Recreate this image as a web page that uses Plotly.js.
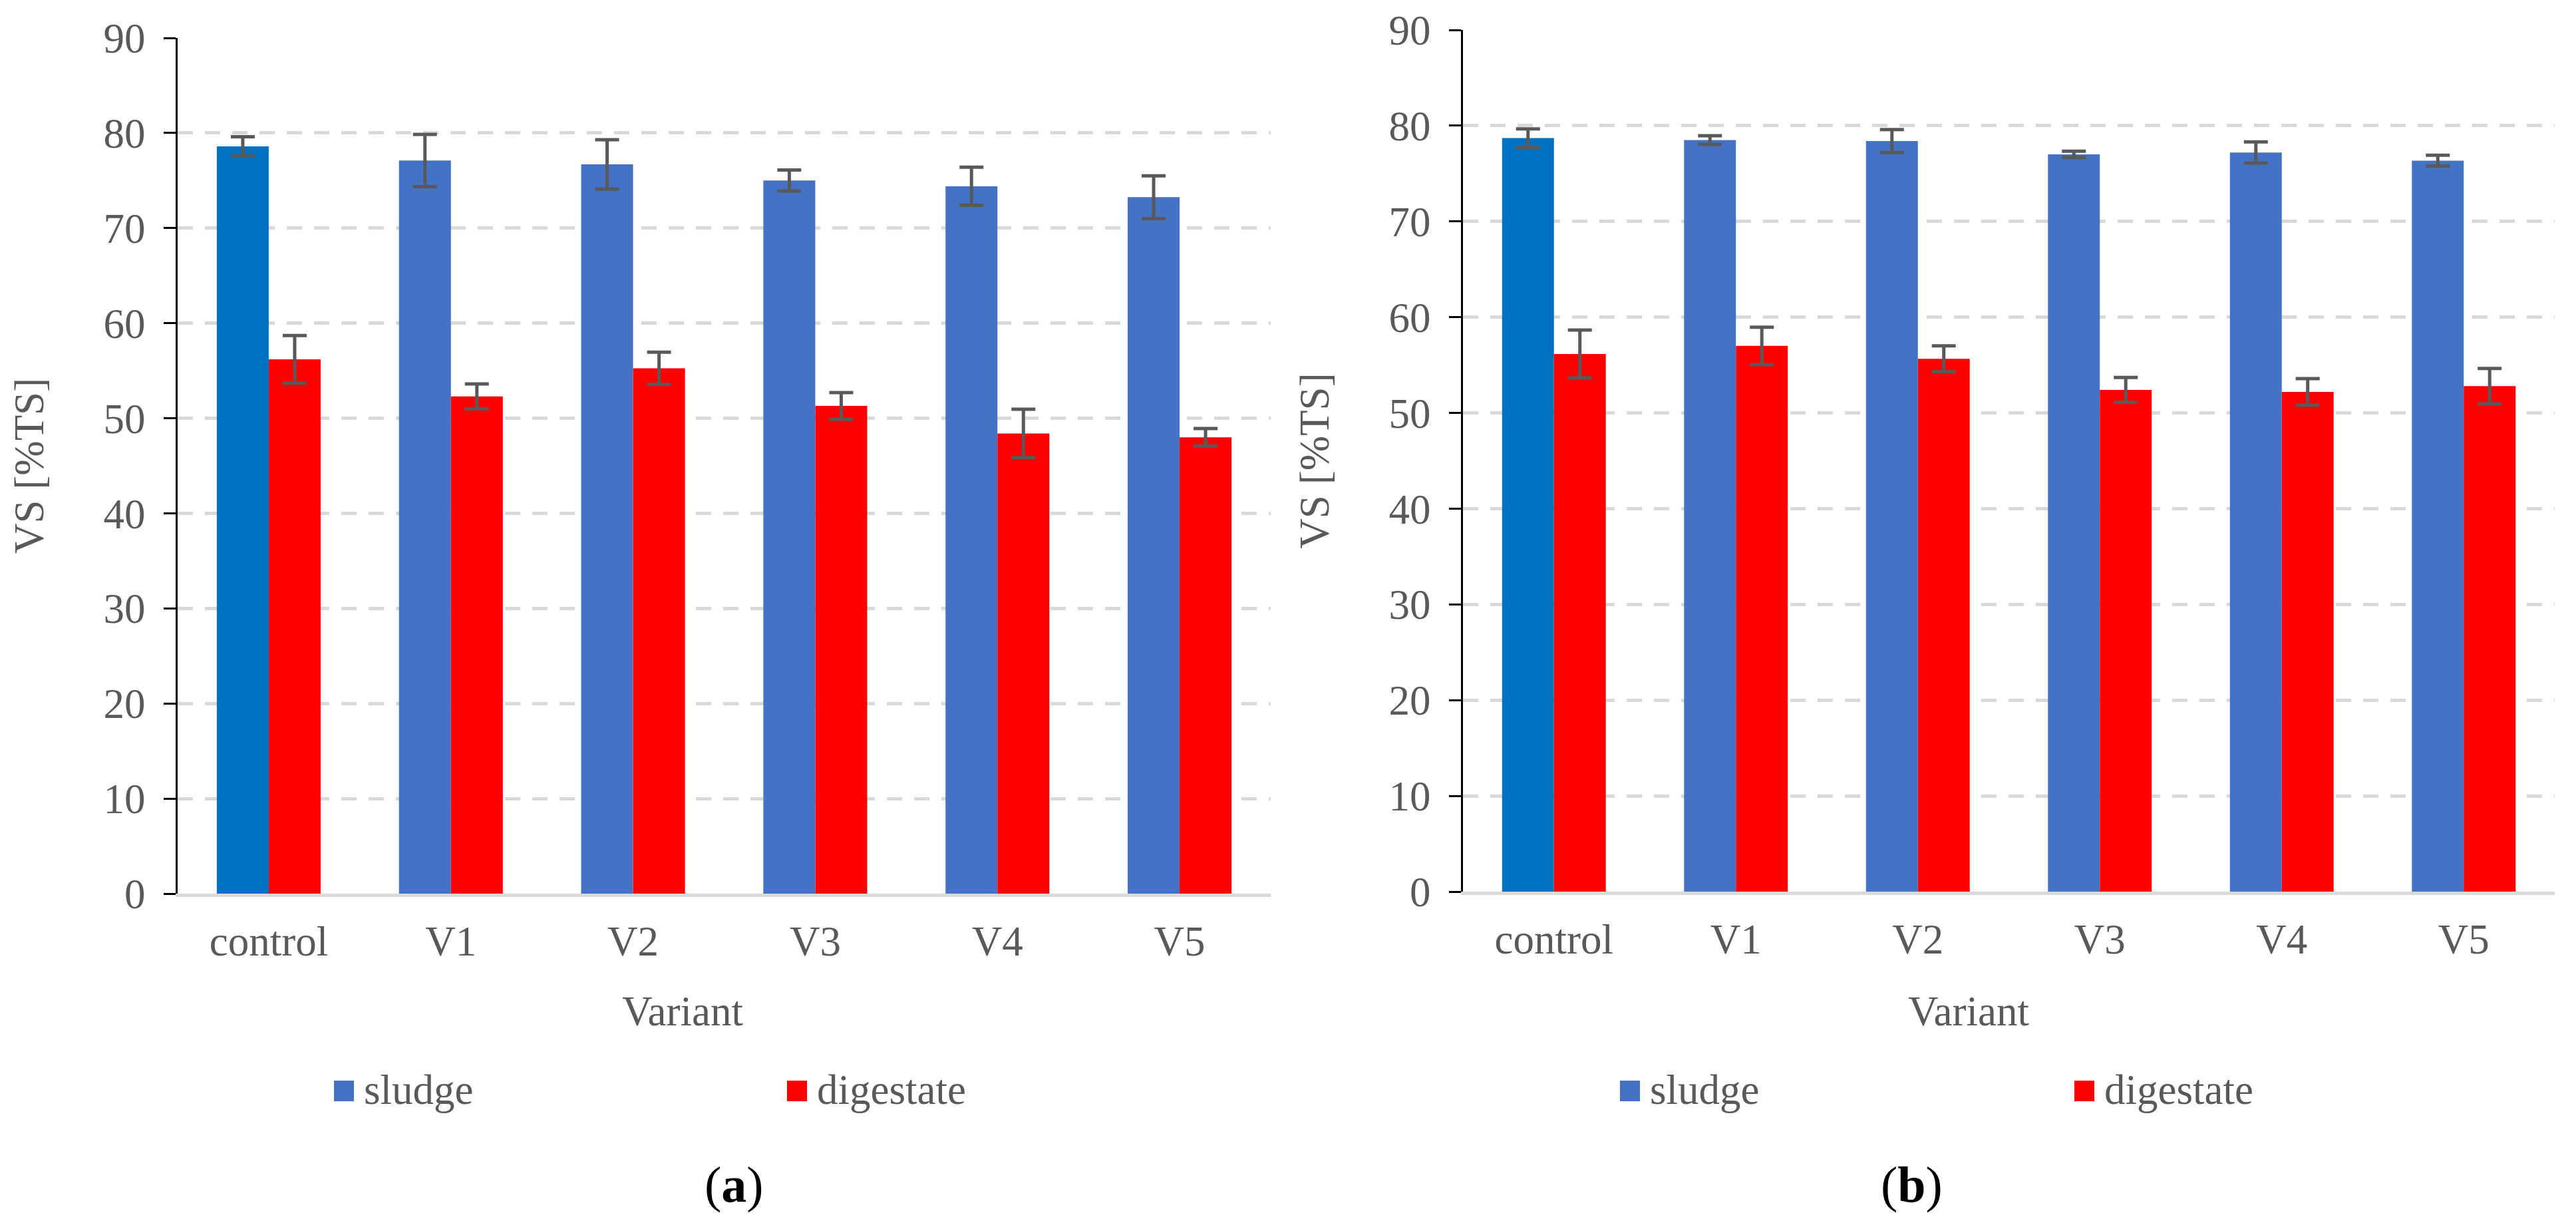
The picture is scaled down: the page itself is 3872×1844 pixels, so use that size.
<!DOCTYPE html>
<html>
<head>
<meta charset="utf-8">
<script src="https://cdn.plot.ly/plotly-3.0.1.min.js"></script>
<style>html,body{margin:0;padding:0;background:#fff;}#chart{width:3872px;height:1844px;}</style>
</head>
<body>
<div id="chart"></div>
<script>
// ---- data ----
const variants = ['control', 'V1', 'V2', 'V3', 'V4', 'V5'];
const sludgeA = [78.6, 77.1, 76.7, 75.0, 74.4, 73.25];
const sludgeErrA = [1.0, 2.75, 2.6, 1.1, 2.0, 2.25];
const digestateA = [56.2, 52.3, 55.25, 51.3, 48.4, 48.0];
const digestateErrA = [2.5, 1.3, 1.7, 1.4, 2.55, 0.92];
const sludgeB = [78.7, 78.5, 78.4, 77.0, 77.2, 76.35];
const sludgeErrB = [0.97, 0.45, 1.2, 0.33, 1.1, 0.56];
const digestateB = [56.15, 57.0, 55.65, 52.4, 52.2, 52.8];
const digestateErrB = [2.5, 1.95, 1.35, 1.3, 1.38, 1.85];
const seriesNames = ['sludge', 'digestate'];
const yTitle = 'VS [%TS]';
const xTitle = 'Variant';

// ---- style ----
const FONT = 'Liberation Serif';
const GREY = '#595959';
const FS = 63;
const SLUDGE = '#4472C4';
const sludgeColors = variants.map((v, i) => i === 0 ? '#0070C0' : SLUDGE);
const DIG = '#FF0000';
const errStyle = (arr) => ({type: 'data', array: arr, visible: true, color: GREY, thickness: 5, width: 18});

const traces = [
  {type: 'bar', name: seriesNames[0], x: variants, y: sludgeA, error_y: errStyle(sludgeErrA),
   marker: {color: sludgeColors, line: {width: 0}}, xaxis: 'x', yaxis: 'y', showlegend: false},
  {type: 'bar', name: seriesNames[1], x: variants, y: digestateA, error_y: errStyle(digestateErrA),
   marker: {color: DIG, line: {width: 0}}, xaxis: 'x', yaxis: 'y', showlegend: false},
  {type: 'bar', name: seriesNames[0], x: variants, y: sludgeB, error_y: errStyle(sludgeErrB),
   marker: {color: sludgeColors, line: {width: 0}}, xaxis: 'x2', yaxis: 'y2', showlegend: false},
  {type: 'bar', name: seriesNames[1], x: variants, y: digestateB, error_y: errStyle(digestateErrB),
   marker: {color: DIG, line: {width: 0}}, xaxis: 'x2', yaxis: 'y2', showlegend: false}
];

const W = 3872, H = 1844;
const px = (v) => v / W;
const py = (v) => 1 - v / H;

function xAx(domain, anchor) {
  return {domain: domain, anchor: anchor, type: 'category', showline: true, linecolor: '#D9D9D9', linewidth: 5,
    ticks: '', showgrid: false, zeroline: false, tickfont: {family: FONT, size: FS, color: GREY},
    ticklabelstandoff: 12, fixedrange: true};
}
function yAx(domain, anchor) {
  return {domain: domain, anchor: anchor, range: [0, 90], dtick: 10, tick0: 0, showline: true, linecolor: '#000', linewidth: 3,
    ticks: 'outside', ticklen: 18, tickwidth: 3, tickcolor: '#000', showgrid: true, gridcolor: '#D9D9D9', gridwidth: 5,
    griddash: '23px,18px', zeroline: false, tickfont: {family: FONT, size: FS, color: GREY}, ticklabelstandoff: 15,
    title: {text: yTitle, font: {family: FONT, size: FS, color: GREY}, standoff: 70}, fixedrange: true};
}
function ann(text, x, y, opts) {
  return Object.assign({text: text, x: x, y: y, xref: 'paper', yref: 'paper', showarrow: false,
    xanchor: 'center', yanchor: 'middle', font: {family: FONT, size: FS, color: GREY}}, opts || {});
}
// legend key: square + label (one per series per panel)
const legendKeys = [
  {name: seriesNames[0], color: SLUDGE, sq: 502, tx: 545},
  {name: seriesNames[1], color: DIG, sq: 1183, tx: 1226},
  {name: seriesNames[0], color: SLUDGE, sq: 2435, tx: 2478},
  {name: seriesNames[1], color: DIG, sq: 3118, tx: 3161}
];
const legendShapes = legendKeys.map(k => ({type: 'rect', xref: 'paper', yref: 'paper',
  x0: px(k.sq), x1: px(k.sq + 30), y0: py(1655), y1: py(1624), fillcolor: k.color, line: {width: 0}}));
const legendTexts = legendKeys.map(k => ann(k.name, px(k.tx), py(1638), {xanchor: 'left'}));

const layout = {
  width: W, height: H, margin: {l: 0, r: 0, t: 0, b: 0}, paper_bgcolor: '#fff', plot_bgcolor: '#fff',
  font: {family: FONT, color: GREY},
  barmode: 'group', bargap: 0.43, bargroupgap: 0, showlegend: false,
  xaxis: xAx([px(267), px(1910)], 'y'),
  yaxis: yAx([py(1343), py(57)], 'x'),
  xaxis2: xAx([px(2199), px(3840)], 'y2'),
  yaxis2: yAx([py(1340), py(45)], 'x2'),
  shapes: legendShapes,
  annotations: [
    ann(xTitle, px(1026), py(1520)),
    ann(xTitle, px(2959), py(1520)),
    ann('(<b>a</b>)', px(1103), py(1780), {font: {family: FONT, size: 76, color: '#000'}}),
    ann('(<b>b</b>)', px(2873), py(1780), {font: {family: FONT, size: 76, color: '#000'}})
  ].concat(legendTexts)
};

Plotly.newPlot('chart', traces, layout, {displayModeBar: false, staticPlot: true});
</script>
</body>
</html>
